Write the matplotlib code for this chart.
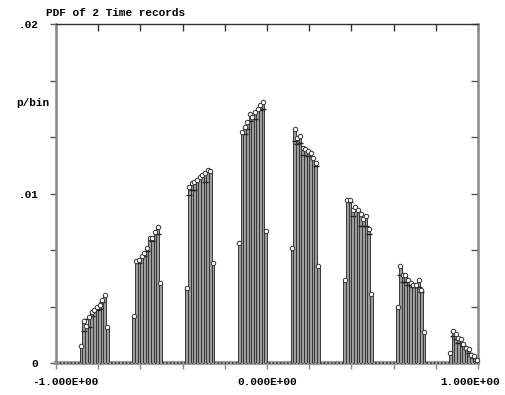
import numpy as np
import matplotlib
matplotlib.use('Agg')
import matplotlib.pyplot as plt
from matplotlib.transforms import offset_copy

# 160 bins over [-1, 1]; the signal only fills 8 groups of 11 bins
bin_edges = np.linspace(-1.0, 1.0, 161)
group_start = [9, 29, 49, 69, 89, 109, 129, 149]

# record 1 (circles, bar height) per group
rec1_groups = [
    [0.0010, 0.0025, 0.0022, 0.0027, 0.0030, 0.0031, 0.0033, 0.0034, 0.0037, 0.0040, 0.0021],
    [0.0028, 0.0060, 0.0061, 0.0063, 0.0065, 0.0068, 0.0074, 0.0074, 0.0077, 0.0080, 0.0047],
    [0.0044, 0.0104, 0.0106, 0.0107, 0.0108, 0.0110, 0.0111, 0.0112, 0.0114, 0.0113, 0.0059],
    [0.0071, 0.0136, 0.0139, 0.0142, 0.0147, 0.0145, 0.0148, 0.0150, 0.0152, 0.0154, 0.0078],
    [0.0068, 0.0138, 0.0133, 0.0134, 0.0127, 0.0126, 0.0125, 0.0124, 0.0121, 0.0118, 0.0057],
    [0.0049, 0.0096, 0.0096, 0.0090, 0.0092, 0.0090, 0.0088, 0.0085, 0.0087, 0.0079, 0.0041],
    [0.0033, 0.0057, 0.0052, 0.0052, 0.0049, 0.0047, 0.0046, 0.0046, 0.0049, 0.0043, 0.0018],
    [0.0006, 0.0019, 0.0017, 0.0015, 0.0014, 0.0011, 0.0009, 0.0008, 0.0005, 0.0004, 0.0002],
]
# record 2 (short dashes)
nan = np.nan
rec2_groups = [
    [nan, 0.0019, 0.0026, 0.0021, 0.0028, nan, 0.0031, 0.0032, 0.0036, nan, nan],
    [nan, nan, 0.0059, nan, 0.0063, 0.0066, nan, 0.0072, nan, 0.0076, nan],
    [nan, 0.0099, 0.0102, 0.0102, nan, nan, nan, 0.0107, nan, nan, nan],
    [nan, nan, 0.0135, 0.0138, 0.0143, nan, 0.0144, nan, 0.0149, 0.0150, nan],
    [nan, 0.0131, 0.0129, 0.0130, 0.0123, nan, 0.0122, nan, nan, 0.0116, nan],
    [nan, nan, 0.0095, 0.0087, nan, nan, 0.0081, 0.0081, 0.0081, 0.0076, nan],
    [nan, 0.0052, 0.0048, 0.0048, 0.0046, 0.0046, 0.0045, 0.0045, 0.0045, 0.0042, nan],
    [nan, 0.0016, 0.0014, 0.0012, 0.0012, 0.0010, 0.0008, 0.0006, 0.0004, 0.0003, 0.0001],
]

x_labels = ['-1.000E+00', '0.000E+00', '1.000E+00']
y_labels = ['0', '.01', '.02']

centers = 0.5 * (bin_edges[:-1] + bin_edges[1:])
width = bin_edges[1] - bin_edges[0]
rec1 = np.zeros(len(centers))
rec2 = np.full(len(centers), np.nan)
for s, g1, g2 in zip(group_start, rec1_groups, rec2_groups):
    rec1[s:s + len(g1)] = g1
    rec2[s:s + len(g2)] = g2
nz = rec1 > 0

plt.rcParams['font.family'] = ['Liberation Mono', 'DejaVu Sans Mono']
plt.rcParams['font.weight'] = 'bold'

fig = plt.figure(figsize=(5.05, 3.95), dpi=100)
ax = fig.add_axes([56 / 505, 1 - 363 / 395, 422 / 505, 339 / 395])
ax.set_xlim(-1, 1)
ax.set_ylim(0, 0.02)

# dotted baseline for the empty bins
ax.axhline(0, color='#a0a0a0', lw=3, zorder=2, clip_on=False)
ax.axhline(0, color='#333333', lw=1.2, ls=(0, (1, 1.2)), zorder=2.5, clip_on=False)

ax.bar(centers[nz], rec1[nz], width=width, color='#9c9c9c',
       edgecolor='#383838', linewidth=0.7, zorder=3)
ax.plot(centers, rec2, '_', ms=4, mew=1, color='#222222', zorder=4)
ax.plot(centers[nz], rec1[nz], 'o', ms=3.2, mfc='white', mec='#333333',
        mew=0.7, zorder=5, clip_on=False)

for side in ['left', 'right']:
    ax.spines[side].set_color('#888888')
    ax.spines[side].set_linewidth(1.8)
ax.spines['top'].set_color('#333333')
ax.spines['top'].set_linewidth(1)
ax.spines['bottom'].set_visible(False)

xt = np.linspace(-1, 1, 11)
yt = np.linspace(0, 0.02, 7)

ax.set_xticks(xt)
ax.set_xticklabels([])
ax.tick_params(axis='x', direction='out', length=4, width=1, color='#888888')
ax.set_yticks([0, 0.01, 0.02])
ax.set_yticklabels(y_labels, fontsize=8)
ax.set_yticks(yt, minor=True)
ax.tick_params(axis='y', which='both', direction='out', length=4, width=1,
               color='#555555', pad=9)

top = ax.secondary_xaxis('top')
top.set_xticks(xt)
top.set_xticklabels([])
top.tick_params(direction='in', length=5, width=1, color='#333333')
top.spines['top'].set_visible(False)

right = ax.secondary_yaxis('right')
right.set_yticks(yt)
right.set_yticklabels([])
right.tick_params(direction='in', length=5, width=1, color='#555555')
right.spines['right'].set_visible(False)

# x labels sit a little inside at both ends
shifts = [9, 0, -8]
for xv, lab, dx in zip([-1, 0, 1], x_labels, shifts):
    tr = offset_copy(ax.get_xaxis_transform(), fig=fig, x=dx, y=-19, units='dots')
    ax.text(xv, 0, lab, transform=tr, ha='center', va='center', fontsize=8,
            clip_on=False)

fig.text(46 / 505, 1 - 13 / 395, 'PDF of 2 Time records', ha='left',
         va='center', fontsize=8)
fig.text(16 / 505, 1 - 103 / 395, 'p/bin', ha='left', va='center', fontsize=8)

fig.savefig('out.png', dpi=100)
